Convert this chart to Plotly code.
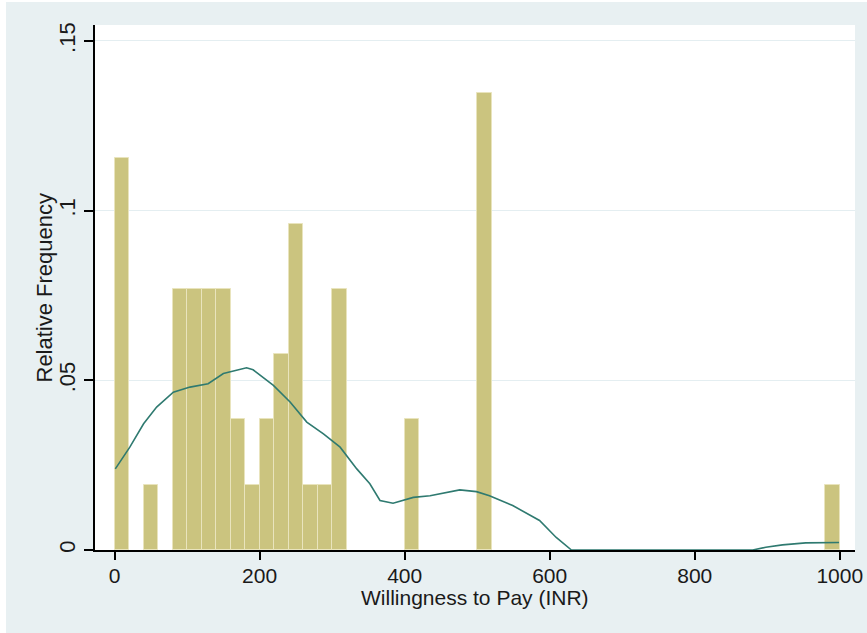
import plotly.graph_objects as go

# Histogram bins (left edge, INR) and relative frequencies, bin width 20
bin_starts = [0, 40, 80, 100, 120, 140, 160, 180, 200, 220, 240, 260, 280, 300, 400, 500, 980]
rel_freq = [0.1154, 0.0192, 0.0769, 0.0769, 0.0769, 0.0769, 0.0385, 0.0192, 0.0385, 0.0577,
            0.0962, 0.0192, 0.0192, 0.0769, 0.0385, 0.1346, 0.0192]
bin_width = 20

# Smoothed density curve
curve_x = [1, 21, 40, 58, 81, 104, 129, 150, 182, 191, 219, 242, 265, 288, 311, 334, 352,
           366, 384, 412, 435, 476, 499, 517, 549, 586, 609, 630, 880, 898, 921, 953, 999]
curve_y = [0.0239, 0.0303, 0.0372, 0.0421, 0.0465, 0.0480, 0.0490, 0.0520, 0.0537, 0.0531,
           0.0485, 0.0436, 0.0377, 0.0342, 0.0303, 0.0239, 0.0195, 0.0146, 0.0138, 0.0155,
           0.0160, 0.0177, 0.0172, 0.0160, 0.0131, 0.0087, 0.0037, 0.0, 0.0, 0.0008,
           0.0015, 0.0021, 0.0022]

x_ticks = [0, 200, 400, 600, 800, 1000]
y_ticks = [0, 0.05, 0.1, 0.15]
y_tick_text = ["0", ".05", ".1", ".15"]

FONT = "Liberation Sans, Arial, sans-serif"
BG = "#e8f0f2"

fig = go.Figure()
fig.add_trace(go.Bar(
    x=[s + bin_width / 2 for s in bin_starts],
    y=rel_freq,
    width=bin_width,
    marker=dict(color="#cbc47f", line=dict(color="#e9e4bd", width=1)),
    hoverinfo="x+y",
))
fig.add_trace(go.Scatter(
    x=curve_x, y=curve_y, mode="lines",
    line=dict(color="#2f7a70", width=1.6),
))

fig.update_layout(
    width=867, height=633,
    margin=dict(l=95, r=12, t=25, b=83, autoexpand=False),
    paper_bgcolor=BG,
    plot_bgcolor="white",
    showlegend=False,
    bargap=0,
    font=dict(family=FONT, size=22, color="#1a1a1a"),
    xaxis=dict(
        range=[-27, 1021],
        automargin=False,
        tickvals=x_ticks,
        ticks="outside", ticklen=8, tickcolor="black", tickwidth=1.5,
        ticklabelstandoff=-2,
        showline=True, linecolor="black", linewidth=1.5,
        showgrid=False, zeroline=False,
        tickfont=dict(size=21),
    ),
    yaxis=dict(
        range=[0, 0.1547],
        automargin=False,
        tickvals=y_ticks, ticktext=y_tick_text,
        tickangle=-90,
        ticks="outside", ticklen=9, tickcolor="black", tickwidth=1.5,
        showline=True, linecolor="black", linewidth=1.5,
        showgrid=True, gridcolor="#e4eef1", gridwidth=1,
        zeroline=False,
        tickfont=dict(size=22),
    ),
    annotations=[
        dict(text="Willingness to Pay (INR)", xref="paper", yref="paper",
             x=0.5, y=(633 - 597 - 83) / 525, xanchor="center", yanchor="middle",
             showarrow=False, font=dict(size=21)),
        dict(text="Relative Frequency", xref="paper", yref="paper",
             x=(44 - 95) / 760, y=0.5, xanchor="center", yanchor="middle",
             textangle=-90, showarrow=False, font=dict(size=22)),
    ],
    shapes=[
        dict(type="rect", xref="paper", yref="paper",
             x0=-95 / 760, x1=(6 - 95) / 760, y0=-83 / 525, y1=(525 + 25) / 525,
             fillcolor="white", line=dict(width=0), layer="below"),
        dict(type="rect", xref="paper", yref="paper",
             x0=-95 / 760, x1=(760 + 12) / 760, y0=(525 + 23) / 525, y1=(525 + 25) / 525,
             fillcolor="white", line=dict(width=0), layer="below"),
    ],
)

fig.write_html("out.html")
